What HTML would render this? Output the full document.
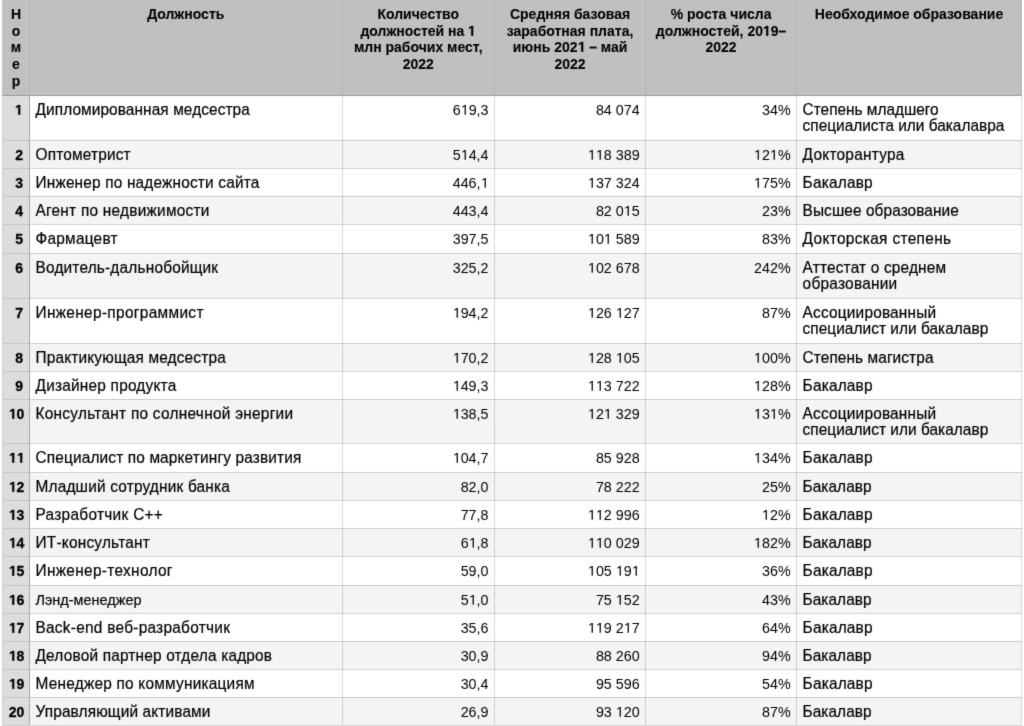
<!DOCTYPE html><html><head><meta charset="utf-8"><style>
*{margin:0;padding:0;box-sizing:border-box}
html,body{width:1024px;height:726px;overflow:hidden;background:#fff}
body{position:relative;font-family:"Liberation Sans",sans-serif;color:#000}
.x{-webkit-text-stroke:0.2px #000}
.b{-webkit-text-stroke:0.1px #000}
.n{-webkit-text-stroke:0.0px #000}
.kk{-webkit-text-stroke:0.3px #000}
.r{position:absolute}
.x{position:absolute;white-space:nowrap;line-height:20px}
.b{font-weight:bold;color:#000}
.sy{transform:scaleY(var(--sy));transform-origin:0 15px}
.o{width:0.5562em;height:0.688em;vertical-align:baseline;fill:currentColor;overflow:visible;stroke:currentColor;stroke-width:40}
.n .o{stroke-width:0}
#w{position:absolute;left:-6px;top:-6px;width:1036px;height:738px;background:#fff;filter:url(#bl)}
#in{position:absolute;left:6px;top:6px;width:1024px;height:726px}
</style></head><body><svg width="0" height="0" style="position:absolute"><filter id="bl" x="0" y="0" width="100%" height="100%" color-interpolation-filters="sRGB"><feConvolveMatrix order="3" kernelMatrix="0.01134 0.08382 0.01134 0.08382 0.61935 0.08382 0.01134 0.08382 0.01134" preserveAlpha="true" edgeMode="duplicate"/></filter></svg><div id="w"><div id="in">
<div class="r" style="left:2px;top:-6px;width:1020px;height:101px;background:#bfc1bf"></div>
<div class="r" style="left:2px;top:95px;width:1020px;height:46px;background:#ffffff"></div>
<div class="r" style="left:2px;top:140px;width:1020px;height:29px;background:#f4f4f4"></div>
<div class="r" style="left:2px;top:168px;width:1020px;height:29px;background:#ffffff"></div>
<div class="r" style="left:2px;top:196px;width:1020px;height:29px;background:#f4f4f4"></div>
<div class="r" style="left:2px;top:224px;width:1020px;height:30px;background:#ffffff"></div>
<div class="r" style="left:2px;top:253px;width:1020px;height:46px;background:#f4f4f4"></div>
<div class="r" style="left:2px;top:298px;width:1020px;height:46px;background:#ffffff"></div>
<div class="r" style="left:2px;top:343px;width:1020px;height:29px;background:#f4f4f4"></div>
<div class="r" style="left:2px;top:371px;width:1020px;height:29px;background:#ffffff"></div>
<div class="r" style="left:2px;top:399px;width:1020px;height:45px;background:#f4f4f4"></div>
<div class="r" style="left:2px;top:443px;width:1020px;height:30px;background:#ffffff"></div>
<div class="r" style="left:2px;top:472px;width:1020px;height:29px;background:#f4f4f4"></div>
<div class="r" style="left:2px;top:500px;width:1020px;height:29px;background:#ffffff"></div>
<div class="r" style="left:2px;top:528px;width:1020px;height:29px;background:#f4f4f4"></div>
<div class="r" style="left:2px;top:556px;width:1020px;height:30px;background:#ffffff"></div>
<div class="r" style="left:2px;top:585px;width:1020px;height:29px;background:#f4f4f4"></div>
<div class="r" style="left:2px;top:613px;width:1020px;height:29px;background:#ffffff"></div>
<div class="r" style="left:2px;top:641px;width:1020px;height:29px;background:#f4f4f4"></div>
<div class="r" style="left:2px;top:669px;width:1020px;height:29px;background:#ffffff"></div>
<div class="r" style="left:2px;top:697px;width:1020px;height:29px;background:#f4f4f4"></div>
<div class="r" style="left:2px;top:95px;width:27px;height:631px;background:#dddddd"></div>
<div class="r" style="left:29px;top:140px;width:993px;height:1px;background:rgba(0,0,0,0.17)"></div>
<div class="r" style="left:2px;top:140px;width:27px;height:1px;background:#c8c8c8"></div>
<div class="r" style="left:29px;top:168px;width:993px;height:1px;background:rgba(0,0,0,0.17)"></div>
<div class="r" style="left:2px;top:168px;width:27px;height:1px;background:#c8c8c8"></div>
<div class="r" style="left:29px;top:196px;width:993px;height:1px;background:rgba(0,0,0,0.17)"></div>
<div class="r" style="left:2px;top:196px;width:27px;height:1px;background:#c8c8c8"></div>
<div class="r" style="left:29px;top:224px;width:993px;height:1px;background:rgba(0,0,0,0.17)"></div>
<div class="r" style="left:2px;top:224px;width:27px;height:1px;background:#c8c8c8"></div>
<div class="r" style="left:29px;top:253px;width:993px;height:1px;background:rgba(0,0,0,0.17)"></div>
<div class="r" style="left:2px;top:253px;width:27px;height:1px;background:#c8c8c8"></div>
<div class="r" style="left:29px;top:298px;width:993px;height:1px;background:rgba(0,0,0,0.17)"></div>
<div class="r" style="left:2px;top:298px;width:27px;height:1px;background:#c8c8c8"></div>
<div class="r" style="left:29px;top:343px;width:993px;height:1px;background:rgba(0,0,0,0.17)"></div>
<div class="r" style="left:2px;top:343px;width:27px;height:1px;background:#c8c8c8"></div>
<div class="r" style="left:29px;top:371px;width:993px;height:1px;background:rgba(0,0,0,0.17)"></div>
<div class="r" style="left:2px;top:371px;width:27px;height:1px;background:#c8c8c8"></div>
<div class="r" style="left:29px;top:399px;width:993px;height:1px;background:rgba(0,0,0,0.17)"></div>
<div class="r" style="left:2px;top:399px;width:27px;height:1px;background:#c8c8c8"></div>
<div class="r" style="left:29px;top:443px;width:993px;height:1px;background:rgba(0,0,0,0.17)"></div>
<div class="r" style="left:2px;top:443px;width:27px;height:1px;background:#c8c8c8"></div>
<div class="r" style="left:29px;top:472px;width:993px;height:1px;background:rgba(0,0,0,0.17)"></div>
<div class="r" style="left:2px;top:472px;width:27px;height:1px;background:#c8c8c8"></div>
<div class="r" style="left:29px;top:500px;width:993px;height:1px;background:rgba(0,0,0,0.17)"></div>
<div class="r" style="left:2px;top:500px;width:27px;height:1px;background:#c8c8c8"></div>
<div class="r" style="left:29px;top:528px;width:993px;height:1px;background:rgba(0,0,0,0.17)"></div>
<div class="r" style="left:2px;top:528px;width:27px;height:1px;background:#c8c8c8"></div>
<div class="r" style="left:29px;top:556px;width:993px;height:1px;background:rgba(0,0,0,0.17)"></div>
<div class="r" style="left:2px;top:556px;width:27px;height:1px;background:#c8c8c8"></div>
<div class="r" style="left:29px;top:585px;width:993px;height:1px;background:rgba(0,0,0,0.17)"></div>
<div class="r" style="left:2px;top:585px;width:27px;height:1px;background:#c8c8c8"></div>
<div class="r" style="left:29px;top:613px;width:993px;height:1px;background:rgba(0,0,0,0.17)"></div>
<div class="r" style="left:2px;top:613px;width:27px;height:1px;background:#c8c8c8"></div>
<div class="r" style="left:29px;top:641px;width:993px;height:1px;background:rgba(0,0,0,0.17)"></div>
<div class="r" style="left:2px;top:641px;width:27px;height:1px;background:#c8c8c8"></div>
<div class="r" style="left:29px;top:669px;width:993px;height:1px;background:rgba(0,0,0,0.17)"></div>
<div class="r" style="left:2px;top:669px;width:27px;height:1px;background:#c8c8c8"></div>
<div class="r" style="left:29px;top:697px;width:993px;height:1px;background:rgba(0,0,0,0.17)"></div>
<div class="r" style="left:2px;top:697px;width:27px;height:1px;background:#c8c8c8"></div>
<div class="r" style="left:29px;top:725px;width:993px;height:1px;background:rgba(0,0,0,0.17)"></div>
<div class="r" style="left:2px;top:725px;width:27px;height:1px;background:#c8c8c8"></div>
<div class="r" style="left:342px;top:95px;width:1px;height:631px;background:rgba(0,0,0,0.15)"></div>
<div class="r" style="left:494px;top:95px;width:1px;height:631px;background:rgba(0,0,0,0.15)"></div>
<div class="r" style="left:645px;top:95px;width:1px;height:631px;background:rgba(0,0,0,0.15)"></div>
<div class="r" style="left:796px;top:95px;width:1px;height:631px;background:rgba(0,0,0,0.15)"></div>
<div class="r" style="left:1021px;top:95px;width:1px;height:631px;background:rgba(0,0,0,0.12)"></div>
<div class="r" style="left:29px;top:95px;width:1px;height:631px;background:#a6a7a6"></div>
<div class="r" style="left:2px;top:95px;width:1px;height:631px;background:#cfcfcf"></div>
<div class="r" style="left:29px;top:-6px;width:1px;height:101px;background:#b2b3b2"></div>
<div class="r" style="left:342px;top:-6px;width:1px;height:101px;background:#b2b3b2"></div>
<div class="r" style="left:494px;top:-6px;width:1px;height:101px;background:#b2b3b2"></div>
<div class="r" style="left:645px;top:-6px;width:1px;height:101px;background:#b2b3b2"></div>
<div class="r" style="left:796px;top:-6px;width:1px;height:101px;background:#b2b3b2"></div>
<div class="r" style="left:1021px;top:-6px;width:1px;height:101px;background:#b2b3b2"></div>
<div class="r" style="left:2px;top:95px;width:1020px;height:1px;background:#9a9b9a"></div>
<div class="r" style="left:29px;top:725px;width:993px;height:1px;background:#d2d2d2"></div>
<div class="r" style="left:2px;top:725px;width:27px;height:1px;background:#c4c4c4"></div>
<div class="x b" id="hn0" style="top:4px;font-size:14.00px;left:-184.00px;width:400px;text-align:center;">Н</div>
<div class="x b" id="hn1" style="top:21px;font-size:14.00px;left:-184.00px;width:400px;text-align:center;">о</div>
<div class="x b" id="hn2" style="top:37px;font-size:14.00px;left:-184.00px;width:400px;text-align:center;">м</div>
<div class="x b" id="hn3" style="top:54px;font-size:14.00px;left:-184.00px;width:400px;text-align:center;">е</div>
<div class="x b" id="hn4" style="top:71px;font-size:14.00px;left:-184.00px;width:400px;text-align:center;">р</div>
<div class="x b" id="hj0" style="top:4px;font-size:14.00px;left:-14.25px;width:400px;text-align:center;">Должность</div>
<div class="x b" id="hc0" style="top:4px;font-size:14.00px;left:218.25px;width:400px;text-align:center;">Количество</div>
<div class="x b" id="hc1" style="top:21px;font-size:14.00px;left:218.25px;width:400px;text-align:center;">должностей на <svg class="o" viewBox="0 0 1139 1409"><path d="M478 1409L478 239L140 450L140 229L493 0L759 0L759 1409Z"/></svg></div>
<div class="x b" id="hc2" style="top:37px;font-size:14.00px;left:218.25px;width:400px;text-align:center;">млн рабочих мест,</div>
<div class="x b" id="hc3" style="top:54px;font-size:14.00px;left:218.25px;width:400px;text-align:center;">2022</div>
<div class="x b" id="hs0" style="top:4px;font-size:14.00px;left:370.05px;width:400px;text-align:center;">Средняя базовая</div>
<div class="x b" id="hs1" style="top:21px;font-size:14.00px;left:370.05px;width:400px;text-align:center;">заработная плата,</div>
<div class="x b" id="hs2" style="top:37px;font-size:14.00px;left:370.05px;width:400px;text-align:center;">июнь 202<svg class="o" viewBox="0 0 1139 1409"><path d="M478 1409L478 239L140 450L140 229L493 0L759 0L759 1409Z"/></svg> – май</div>
<div class="x b" id="hs3" style="top:54px;font-size:14.00px;left:370.05px;width:400px;text-align:center;">2022</div>
<div class="x b" id="hp0" style="top:4px;font-size:14.00px;left:521.10px;width:400px;text-align:center;">% роста числа</div>
<div class="x b" id="hp1" style="top:21px;font-size:14.00px;left:521.10px;width:400px;text-align:center;">должностей, 20<svg class="o" viewBox="0 0 1139 1409"><path d="M478 1409L478 239L140 450L140 229L493 0L759 0L759 1409Z"/></svg>9–</div>
<div class="x b" id="hp2" style="top:37px;font-size:14.00px;left:521.10px;width:400px;text-align:center;">2022</div>
<div class="x b" id="he0" style="top:4px;font-size:14.00px;left:709.05px;width:400px;text-align:center;">Необходимое образование</div>
<div class="x b kk" id="k0" style="top:100px;font-size:14.00px;right:1001.00px;"><svg class="o" viewBox="0 0 1139 1409"><path d="M478 1409L478 239L140 450L140 229L493 0L759 0L759 1409Z"/></svg></div>
<div class="x sy" id="j0" style="top:100px;font-size:15.40px;letter-spacing:0.096px;left:35.50px;--sy:1.06;">Дипломированная медсестра</div>
<div class="x n" id="c0" style="top:100px;font-size:14.30px;right:535.50px;">6<svg class="o" viewBox="0 0 1139 1409"><path d="M515 1409L515 172L197 399L197 229L530 0L696 0L696 1409Z"/></svg>9,3</div>
<div class="x n" id="s0" style="top:100px;font-size:14.30px;right:384.40px;">84 074</div>
<div class="x n" id="p0" style="top:100px;font-size:14.30px;right:233.40px;">34%</div>
<div class="x sy" id="e0_0" style="top:100px;font-size:15.40px;left:802.60px;--sy:1.06;">Степень младшего</div>
<div class="x sy" id="e0_1" style="top:116px;font-size:15.40px;letter-spacing:0.008px;left:802.60px;--sy:1.06;">специалиста или бакалавра</div>
<div class="x b kk" id="k1" style="top:145px;font-size:14.00px;right:1001.00px;">2</div>
<div class="x sy" id="j1" style="top:145px;font-size:15.40px;letter-spacing:0.180px;left:35.50px;--sy:1.06;">Оптометрист</div>
<div class="x n" id="c1" style="top:145px;font-size:14.30px;right:535.50px;">5<svg class="o" viewBox="0 0 1139 1409"><path d="M515 1409L515 172L197 399L197 229L530 0L696 0L696 1409Z"/></svg>4,4</div>
<div class="x n" id="s1" style="top:145px;font-size:14.30px;right:384.40px;"><svg class="o" viewBox="0 0 1139 1409"><path d="M515 1409L515 172L197 399L197 229L530 0L696 0L696 1409Z"/></svg><svg class="o" viewBox="0 0 1139 1409"><path d="M515 1409L515 172L197 399L197 229L530 0L696 0L696 1409Z"/></svg>8 389</div>
<div class="x n" id="p1" style="top:145px;font-size:14.30px;right:233.40px;"><svg class="o" viewBox="0 0 1139 1409"><path d="M515 1409L515 172L197 399L197 229L530 0L696 0L696 1409Z"/></svg>2<svg class="o" viewBox="0 0 1139 1409"><path d="M515 1409L515 172L197 399L197 229L530 0L696 0L696 1409Z"/></svg>%</div>
<div class="x sy" id="e1_0" style="top:145px;font-size:15.40px;letter-spacing:0.255px;left:802.60px;--sy:1.06;">Докторантура</div>
<div class="x b kk" id="k2" style="top:173px;font-size:14.00px;right:1001.00px;">3</div>
<div class="x sy" id="j2" style="top:173px;font-size:15.40px;letter-spacing:0.177px;left:35.50px;--sy:1.06;">Инженер по надежности сайта</div>
<div class="x n" id="c2" style="top:173px;font-size:14.30px;right:535.50px;">446,<svg class="o" viewBox="0 0 1139 1409"><path d="M515 1409L515 172L197 399L197 229L530 0L696 0L696 1409Z"/></svg></div>
<div class="x n" id="s2" style="top:173px;font-size:14.30px;right:384.40px;"><svg class="o" viewBox="0 0 1139 1409"><path d="M515 1409L515 172L197 399L197 229L530 0L696 0L696 1409Z"/></svg>37 324</div>
<div class="x n" id="p2" style="top:173px;font-size:14.30px;right:233.40px;"><svg class="o" viewBox="0 0 1139 1409"><path d="M515 1409L515 172L197 399L197 229L530 0L696 0L696 1409Z"/></svg>75%</div>
<div class="x sy" id="e2_0" style="top:173px;font-size:15.40px;letter-spacing:0.214px;left:802.60px;--sy:1.06;">Бакалавр</div>
<div class="x b kk" id="k3" style="top:201px;font-size:14.00px;right:1001.00px;">4</div>
<div class="x sy" id="j3" style="top:201px;font-size:15.40px;letter-spacing:0.245px;left:35.50px;--sy:1.06;">Агент по недвижимости</div>
<div class="x n" id="c3" style="top:201px;font-size:14.30px;right:535.50px;">443,4</div>
<div class="x n" id="s3" style="top:201px;font-size:14.30px;right:384.40px;">82 0<svg class="o" viewBox="0 0 1139 1409"><path d="M515 1409L515 172L197 399L197 229L530 0L696 0L696 1409Z"/></svg>5</div>
<div class="x n" id="p3" style="top:201px;font-size:14.30px;right:233.40px;">23%</div>
<div class="x sy" id="e3_0" style="top:201px;font-size:15.40px;letter-spacing:0.088px;left:802.60px;--sy:1.06;">Высшее образование</div>
<div class="x b kk" id="k4" style="top:229px;font-size:14.00px;right:1001.00px;">5</div>
<div class="x sy" id="j4" style="top:229px;font-size:15.40px;letter-spacing:0.250px;left:35.50px;--sy:1.06;">Фармацевт</div>
<div class="x n" id="c4" style="top:229px;font-size:14.30px;right:535.50px;">397,5</div>
<div class="x n" id="s4" style="top:229px;font-size:14.30px;right:384.40px;"><svg class="o" viewBox="0 0 1139 1409"><path d="M515 1409L515 172L197 399L197 229L530 0L696 0L696 1409Z"/></svg>0<svg class="o" viewBox="0 0 1139 1409"><path d="M515 1409L515 172L197 399L197 229L530 0L696 0L696 1409Z"/></svg> 589</div>
<div class="x n" id="p4" style="top:229px;font-size:14.30px;right:233.40px;">83%</div>
<div class="x sy" id="e4_0" style="top:229px;font-size:15.40px;letter-spacing:0.347px;left:802.60px;--sy:1.06;">Докторская степень</div>
<div class="x b kk" id="k5" style="top:258px;font-size:14.00px;right:1001.00px;">6</div>
<div class="x sy" id="j5" style="top:258px;font-size:15.40px;letter-spacing:0.195px;left:35.50px;--sy:1.06;">Водитель-дальнобойщик</div>
<div class="x n" id="c5" style="top:258px;font-size:14.30px;right:535.50px;">325,2</div>
<div class="x n" id="s5" style="top:258px;font-size:14.30px;right:384.40px;"><svg class="o" viewBox="0 0 1139 1409"><path d="M515 1409L515 172L197 399L197 229L530 0L696 0L696 1409Z"/></svg>02 678</div>
<div class="x n" id="p5" style="top:258px;font-size:14.30px;right:233.40px;">242%</div>
<div class="x sy" id="e5_0" style="top:258px;font-size:15.40px;letter-spacing:0.176px;left:802.60px;--sy:1.06;">Аттестат о среднем</div>
<div class="x sy" id="e5_1" style="top:274px;font-size:15.40px;letter-spacing:0.260px;left:802.60px;--sy:1.06;">образовании</div>
<div class="x b kk" id="k6" style="top:303px;font-size:14.00px;right:1001.00px;">7</div>
<div class="x sy" id="j6" style="top:303px;font-size:15.40px;letter-spacing:0.339px;left:35.50px;--sy:1.06;">Инженер-программист</div>
<div class="x n" id="c6" style="top:303px;font-size:14.30px;right:535.50px;"><svg class="o" viewBox="0 0 1139 1409"><path d="M515 1409L515 172L197 399L197 229L530 0L696 0L696 1409Z"/></svg>94,2</div>
<div class="x n" id="s6" style="top:303px;font-size:14.30px;right:384.40px;"><svg class="o" viewBox="0 0 1139 1409"><path d="M515 1409L515 172L197 399L197 229L530 0L696 0L696 1409Z"/></svg>26 <svg class="o" viewBox="0 0 1139 1409"><path d="M515 1409L515 172L197 399L197 229L530 0L696 0L696 1409Z"/></svg>27</div>
<div class="x n" id="p6" style="top:303px;font-size:14.30px;right:233.40px;">87%</div>
<div class="x sy" id="e6_0" style="top:303px;font-size:15.40px;letter-spacing:0.200px;left:802.60px;--sy:1.06;">Ассоциированный</div>
<div class="x sy" id="e6_1" style="top:319px;font-size:15.40px;letter-spacing:0.050px;left:802.60px;--sy:1.06;">специалист или бакалавр</div>
<div class="x b kk" id="k7" style="top:348px;font-size:14.00px;right:1001.00px;">8</div>
<div class="x sy" id="j7" style="top:348px;font-size:15.40px;letter-spacing:0.171px;left:35.50px;--sy:1.06;">Практикующая медсестра</div>
<div class="x n" id="c7" style="top:348px;font-size:14.30px;right:535.50px;"><svg class="o" viewBox="0 0 1139 1409"><path d="M515 1409L515 172L197 399L197 229L530 0L696 0L696 1409Z"/></svg>70,2</div>
<div class="x n" id="s7" style="top:348px;font-size:14.30px;right:384.40px;"><svg class="o" viewBox="0 0 1139 1409"><path d="M515 1409L515 172L197 399L197 229L530 0L696 0L696 1409Z"/></svg>28 <svg class="o" viewBox="0 0 1139 1409"><path d="M515 1409L515 172L197 399L197 229L530 0L696 0L696 1409Z"/></svg>05</div>
<div class="x n" id="p7" style="top:348px;font-size:14.30px;right:233.40px;"><svg class="o" viewBox="0 0 1139 1409"><path d="M515 1409L515 172L197 399L197 229L530 0L696 0L696 1409Z"/></svg>00%</div>
<div class="x sy" id="e7_0" style="top:348px;font-size:15.40px;letter-spacing:0.093px;left:802.60px;--sy:1.06;">Степень магистра</div>
<div class="x b kk" id="k8" style="top:376px;font-size:14.00px;right:1001.00px;">9</div>
<div class="x sy" id="j8" style="top:376px;font-size:15.40px;letter-spacing:0.219px;left:35.50px;--sy:1.06;">Дизайнер продукта</div>
<div class="x n" id="c8" style="top:376px;font-size:14.30px;right:535.50px;"><svg class="o" viewBox="0 0 1139 1409"><path d="M515 1409L515 172L197 399L197 229L530 0L696 0L696 1409Z"/></svg>49,3</div>
<div class="x n" id="s8" style="top:376px;font-size:14.30px;right:384.40px;"><svg class="o" viewBox="0 0 1139 1409"><path d="M515 1409L515 172L197 399L197 229L530 0L696 0L696 1409Z"/></svg><svg class="o" viewBox="0 0 1139 1409"><path d="M515 1409L515 172L197 399L197 229L530 0L696 0L696 1409Z"/></svg>3 722</div>
<div class="x n" id="p8" style="top:376px;font-size:14.30px;right:233.40px;"><svg class="o" viewBox="0 0 1139 1409"><path d="M515 1409L515 172L197 399L197 229L530 0L696 0L696 1409Z"/></svg>28%</div>
<div class="x sy" id="e8_0" style="top:376px;font-size:15.40px;letter-spacing:0.200px;left:802.60px;--sy:1.06;">Бакалавр</div>
<div class="x b kk" id="k9" style="top:404px;font-size:14.00px;right:999.70px;"><svg class="o" viewBox="0 0 1139 1409"><path d="M478 1409L478 239L140 450L140 229L493 0L759 0L759 1409Z"/></svg>0</div>
<div class="x sy" id="j9" style="top:404px;font-size:15.40px;letter-spacing:0.271px;left:35.50px;--sy:1.06;">Консультант по солнечной энергии</div>
<div class="x n" id="c9" style="top:404px;font-size:14.30px;right:535.50px;"><svg class="o" viewBox="0 0 1139 1409"><path d="M515 1409L515 172L197 399L197 229L530 0L696 0L696 1409Z"/></svg>38,5</div>
<div class="x n" id="s9" style="top:404px;font-size:14.30px;right:384.40px;"><svg class="o" viewBox="0 0 1139 1409"><path d="M515 1409L515 172L197 399L197 229L530 0L696 0L696 1409Z"/></svg>2<svg class="o" viewBox="0 0 1139 1409"><path d="M515 1409L515 172L197 399L197 229L530 0L696 0L696 1409Z"/></svg> 329</div>
<div class="x n" id="p9" style="top:404px;font-size:14.30px;right:233.40px;"><svg class="o" viewBox="0 0 1139 1409"><path d="M515 1409L515 172L197 399L197 229L530 0L696 0L696 1409Z"/></svg>3<svg class="o" viewBox="0 0 1139 1409"><path d="M515 1409L515 172L197 399L197 229L530 0L696 0L696 1409Z"/></svg>%</div>
<div class="x sy" id="e9_0" style="top:404px;font-size:15.40px;letter-spacing:0.200px;left:802.60px;--sy:1.06;">Ассоциированный</div>
<div class="x sy" id="e9_1" style="top:420px;font-size:15.40px;letter-spacing:0.050px;left:802.60px;--sy:1.06;">специалист или бакалавр</div>
<div class="x b kk" id="k10" style="top:448px;font-size:14.00px;right:999.70px;"><svg class="o" viewBox="0 0 1139 1409"><path d="M478 1409L478 239L140 450L140 229L493 0L759 0L759 1409Z"/></svg><svg class="o" viewBox="0 0 1139 1409"><path d="M478 1409L478 239L140 450L140 229L493 0L759 0L759 1409Z"/></svg></div>
<div class="x sy" id="j10" style="top:448px;font-size:15.40px;letter-spacing:0.153px;left:35.50px;--sy:1.06;">Специалист по маркетингу развития</div>
<div class="x n" id="c10" style="top:448px;font-size:14.30px;right:535.50px;"><svg class="o" viewBox="0 0 1139 1409"><path d="M515 1409L515 172L197 399L197 229L530 0L696 0L696 1409Z"/></svg>04,7</div>
<div class="x n" id="s10" style="top:448px;font-size:14.30px;right:384.40px;">85 928</div>
<div class="x n" id="p10" style="top:448px;font-size:14.30px;right:233.40px;"><svg class="o" viewBox="0 0 1139 1409"><path d="M515 1409L515 172L197 399L197 229L530 0L696 0L696 1409Z"/></svg>34%</div>
<div class="x sy" id="e10_0" style="top:448px;font-size:15.40px;letter-spacing:0.200px;left:802.60px;--sy:1.06;">Бакалавр</div>
<div class="x b kk" id="k11" style="top:477px;font-size:14.00px;right:999.70px;"><svg class="o" viewBox="0 0 1139 1409"><path d="M478 1409L478 239L140 450L140 229L493 0L759 0L759 1409Z"/></svg>2</div>
<div class="x sy" id="j11" style="top:477px;font-size:15.40px;letter-spacing:0.191px;left:35.50px;--sy:1.06;">Младший сотрудник банка</div>
<div class="x n" id="c11" style="top:477px;font-size:14.30px;right:535.50px;">82,0</div>
<div class="x n" id="s11" style="top:477px;font-size:14.30px;right:384.40px;">78 222</div>
<div class="x n" id="p11" style="top:477px;font-size:14.30px;right:233.40px;">25%</div>
<div class="x sy" id="e11_0" style="top:477px;font-size:15.40px;letter-spacing:0.057px;left:802.60px;--sy:1.06;">Бакалавр</div>
<div class="x b kk" id="k12" style="top:505px;font-size:14.00px;right:999.70px;"><svg class="o" viewBox="0 0 1139 1409"><path d="M478 1409L478 239L140 450L140 229L493 0L759 0L759 1409Z"/></svg>3</div>
<div class="x sy" id="j12" style="top:505px;font-size:15.40px;letter-spacing:0.300px;left:35.50px;--sy:1.06;">Разработчик C++</div>
<div class="x n" id="c12" style="top:505px;font-size:14.30px;right:535.50px;">77,8</div>
<div class="x n" id="s12" style="top:505px;font-size:14.30px;right:384.40px;"><svg class="o" viewBox="0 0 1139 1409"><path d="M515 1409L515 172L197 399L197 229L530 0L696 0L696 1409Z"/></svg><svg class="o" viewBox="0 0 1139 1409"><path d="M515 1409L515 172L197 399L197 229L530 0L696 0L696 1409Z"/></svg>2 996</div>
<div class="x n" id="p12" style="top:505px;font-size:14.30px;right:233.40px;"><svg class="o" viewBox="0 0 1139 1409"><path d="M515 1409L515 172L197 399L197 229L530 0L696 0L696 1409Z"/></svg>2%</div>
<div class="x sy" id="e12_0" style="top:505px;font-size:15.40px;letter-spacing:0.200px;left:802.60px;--sy:1.06;">Бакалавр</div>
<div class="x b kk" id="k13" style="top:533px;font-size:14.00px;right:999.70px;"><svg class="o" viewBox="0 0 1139 1409"><path d="M478 1409L478 239L140 450L140 229L493 0L759 0L759 1409Z"/></svg>4</div>
<div class="x sy" id="j13" style="top:533px;font-size:15.40px;letter-spacing:0.223px;left:35.50px;--sy:1.06;">ИТ-консультант</div>
<div class="x n" id="c13" style="top:533px;font-size:14.30px;right:535.50px;">6<svg class="o" viewBox="0 0 1139 1409"><path d="M515 1409L515 172L197 399L197 229L530 0L696 0L696 1409Z"/></svg>,8</div>
<div class="x n" id="s13" style="top:533px;font-size:14.30px;right:384.40px;"><svg class="o" viewBox="0 0 1139 1409"><path d="M515 1409L515 172L197 399L197 229L530 0L696 0L696 1409Z"/></svg><svg class="o" viewBox="0 0 1139 1409"><path d="M515 1409L515 172L197 399L197 229L530 0L696 0L696 1409Z"/></svg>0 029</div>
<div class="x n" id="p13" style="top:533px;font-size:14.30px;right:233.40px;"><svg class="o" viewBox="0 0 1139 1409"><path d="M515 1409L515 172L197 399L197 229L530 0L696 0L696 1409Z"/></svg>82%</div>
<div class="x sy" id="e13_0" style="top:533px;font-size:15.40px;letter-spacing:0.057px;left:802.60px;--sy:1.06;">Бакалавр</div>
<div class="x b kk" id="k14" style="top:561px;font-size:14.00px;right:999.70px;"><svg class="o" viewBox="0 0 1139 1409"><path d="M478 1409L478 239L140 450L140 229L493 0L759 0L759 1409Z"/></svg>5</div>
<div class="x sy" id="j14" style="top:561px;font-size:15.40px;letter-spacing:0.327px;left:35.50px;--sy:1.06;">Инженер-технолог</div>
<div class="x n" id="c14" style="top:561px;font-size:14.30px;right:535.50px;">59,0</div>
<div class="x n" id="s14" style="top:561px;font-size:14.30px;right:384.40px;"><svg class="o" viewBox="0 0 1139 1409"><path d="M515 1409L515 172L197 399L197 229L530 0L696 0L696 1409Z"/></svg>05 <svg class="o" viewBox="0 0 1139 1409"><path d="M515 1409L515 172L197 399L197 229L530 0L696 0L696 1409Z"/></svg>9<svg class="o" viewBox="0 0 1139 1409"><path d="M515 1409L515 172L197 399L197 229L530 0L696 0L696 1409Z"/></svg></div>
<div class="x n" id="p14" style="top:561px;font-size:14.30px;right:233.40px;">36%</div>
<div class="x sy" id="e14_0" style="top:561px;font-size:15.40px;letter-spacing:0.200px;left:802.60px;--sy:1.06;">Бакалавр</div>
<div class="x b kk" id="k15" style="top:590px;font-size:14.00px;right:999.70px;"><svg class="o" viewBox="0 0 1139 1409"><path d="M478 1409L478 239L140 450L140 229L493 0L759 0L759 1409Z"/></svg>6</div>
<div class="x sy" id="j15" style="top:590px;font-size:14.50px;letter-spacing:-0.025px;left:35.50px;--sy:1.06;">Лэнд-менеджер</div>
<div class="x n" id="c15" style="top:590px;font-size:14.30px;right:535.50px;">5<svg class="o" viewBox="0 0 1139 1409"><path d="M515 1409L515 172L197 399L197 229L530 0L696 0L696 1409Z"/></svg>,0</div>
<div class="x n" id="s15" style="top:590px;font-size:14.30px;right:384.40px;">75 <svg class="o" viewBox="0 0 1139 1409"><path d="M515 1409L515 172L197 399L197 229L530 0L696 0L696 1409Z"/></svg>52</div>
<div class="x n" id="p15" style="top:590px;font-size:14.30px;right:233.40px;">43%</div>
<div class="x sy" id="e15_0" style="top:590px;font-size:15.40px;letter-spacing:0.057px;left:802.60px;--sy:1.06;">Бакалавр</div>
<div class="x b kk" id="k16" style="top:618px;font-size:14.00px;right:999.70px;"><svg class="o" viewBox="0 0 1139 1409"><path d="M478 1409L478 239L140 450L140 229L493 0L759 0L759 1409Z"/></svg>7</div>
<div class="x sy" id="j16" style="top:618px;font-size:15.40px;letter-spacing:0.270px;left:35.50px;--sy:1.06;">Back-end веб-разработчик</div>
<div class="x n" id="c16" style="top:618px;font-size:14.30px;right:535.50px;">35,6</div>
<div class="x n" id="s16" style="top:618px;font-size:14.30px;right:384.40px;"><svg class="o" viewBox="0 0 1139 1409"><path d="M515 1409L515 172L197 399L197 229L530 0L696 0L696 1409Z"/></svg><svg class="o" viewBox="0 0 1139 1409"><path d="M515 1409L515 172L197 399L197 229L530 0L696 0L696 1409Z"/></svg>9 2<svg class="o" viewBox="0 0 1139 1409"><path d="M515 1409L515 172L197 399L197 229L530 0L696 0L696 1409Z"/></svg>7</div>
<div class="x n" id="p16" style="top:618px;font-size:14.30px;right:233.40px;">64%</div>
<div class="x sy" id="e16_0" style="top:618px;font-size:15.40px;letter-spacing:0.200px;left:802.60px;--sy:1.06;">Бакалавр</div>
<div class="x b kk" id="k17" style="top:646px;font-size:14.00px;right:999.70px;"><svg class="o" viewBox="0 0 1139 1409"><path d="M478 1409L478 239L140 450L140 229L493 0L759 0L759 1409Z"/></svg>8</div>
<div class="x sy" id="j17" style="top:646px;font-size:15.40px;letter-spacing:0.189px;left:35.50px;--sy:1.06;">Деловой партнер отдела кадров</div>
<div class="x n" id="c17" style="top:646px;font-size:14.30px;right:535.50px;">30,9</div>
<div class="x n" id="s17" style="top:646px;font-size:14.30px;right:384.40px;">88 260</div>
<div class="x n" id="p17" style="top:646px;font-size:14.30px;right:233.40px;">94%</div>
<div class="x sy" id="e17_0" style="top:646px;font-size:15.40px;letter-spacing:0.057px;left:802.60px;--sy:1.06;">Бакалавр</div>
<div class="x b kk" id="k18" style="top:674px;font-size:14.00px;right:999.70px;"><svg class="o" viewBox="0 0 1139 1409"><path d="M478 1409L478 239L140 450L140 229L493 0L759 0L759 1409Z"/></svg>9</div>
<div class="x sy" id="j18" style="top:674px;font-size:15.40px;letter-spacing:0.225px;left:35.50px;--sy:1.06;">Менеджер по коммуникациям</div>
<div class="x n" id="c18" style="top:674px;font-size:14.30px;right:535.50px;">30,4</div>
<div class="x n" id="s18" style="top:674px;font-size:14.30px;right:384.40px;">95 596</div>
<div class="x n" id="p18" style="top:674px;font-size:14.30px;right:233.40px;">54%</div>
<div class="x sy" id="e18_0" style="top:674px;font-size:15.40px;letter-spacing:0.200px;left:802.60px;--sy:1.06;">Бакалавр</div>
<div class="x b kk" id="k19" style="top:702px;font-size:14.00px;right:999.70px;">20</div>
<div class="x sy" id="j19" style="top:702px;font-size:15.40px;letter-spacing:0.142px;left:35.50px;--sy:1.06;">Управляющий активами</div>
<div class="x n" id="c19" style="top:702px;font-size:14.30px;right:535.50px;">26,9</div>
<div class="x n" id="s19" style="top:702px;font-size:14.30px;right:384.40px;">93 <svg class="o" viewBox="0 0 1139 1409"><path d="M515 1409L515 172L197 399L197 229L530 0L696 0L696 1409Z"/></svg>20</div>
<div class="x n" id="p19" style="top:702px;font-size:14.30px;right:233.40px;">87%</div>
<div class="x sy" id="e19_0" style="top:702px;font-size:15.40px;letter-spacing:0.057px;left:802.60px;--sy:1.06;">Бакалавр</div>
</div></div></body></html>
